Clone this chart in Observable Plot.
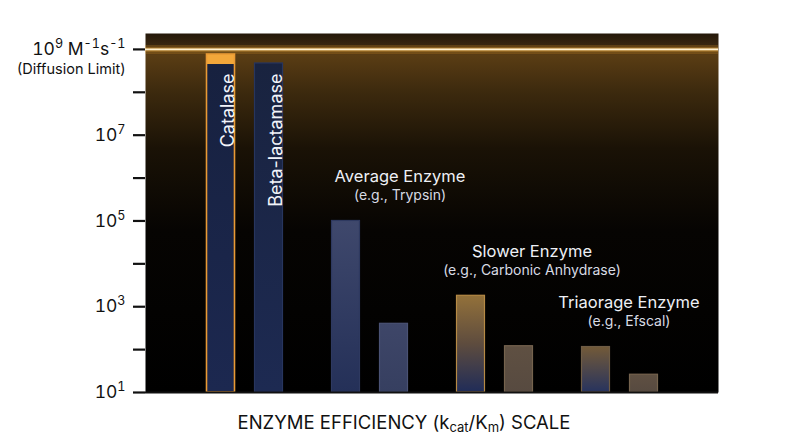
<!DOCTYPE html>
<html>
<head>
<meta charset="utf-8">
<script src="https://cdn.jsdelivr.net/npm/d3@7"></script>
<script src="https://cdn.jsdelivr.net/npm/@observablehq/plot@0.6"></script>
<style>
  html, body { margin: 0; padding: 0; background: #fff; }
  #chart { width: 800px; height: 447px; position: relative; }
</style>
</head>
<body>
<svg width="0" height="0" style="position:absolute">
  <defs>
    <linearGradient id="panelBg" x1="0" y1="0" x2="0" y2="1">
      <stop offset="0" stop-color="#24180a"/>
      <stop offset="0.035" stop-color="#3a2810"/>
      <stop offset="0.06" stop-color="#5a3d14"/>
      <stop offset="0.16" stop-color="#3d2a0e"/>
      <stop offset="0.32" stop-color="#1a1206"/>
      <stop offset="0.55" stop-color="#060402"/>
      <stop offset="1" stop-color="#000000"/>
    </linearGradient>
    <linearGradient id="tone-catalase" x1="0" y1="0" x2="0" y2="1">
      <stop offset="0" stop-color="#f2a73a"/>
      <stop offset="0.03" stop-color="#f2a73a"/>
      <stop offset="0.031" stop-color="#17213f"/>
      <stop offset="1" stop-color="#1c2850"/>
    </linearGradient>
    <linearGradient id="tone-navy" x1="0" y1="0" x2="0" y2="1">
      <stop offset="0" stop-color="#19233f"/>
      <stop offset="1" stop-color="#1d2a52"/>
    </linearGradient>
    <linearGradient id="tone-slate" x1="0" y1="0" x2="0" y2="1">
      <stop offset="0" stop-color="#3f486c"/>
      <stop offset="1" stop-color="#243058"/>
    </linearGradient>
    <linearGradient id="tone-slate2" x1="0" y1="0" x2="0" y2="1">
      <stop offset="0" stop-color="#3e4668"/>
      <stop offset="1" stop-color="#363f60"/>
    </linearGradient>
    <linearGradient id="tone-amber" x1="0" y1="0" x2="0" y2="1">
      <stop offset="0" stop-color="#93713a"/>
      <stop offset="0.5" stop-color="#5e4c3e"/>
      <stop offset="1" stop-color="#202c58"/>
    </linearGradient>
    <linearGradient id="tone-amber2" x1="0" y1="0" x2="0" y2="1">
      <stop offset="0" stop-color="#735a38"/>
      <stop offset="1" stop-color="#27335e"/>
    </linearGradient>
    <linearGradient id="tone-taupe" x1="0" y1="0" x2="0" y2="1">
      <stop offset="0" stop-color="#5f5042"/>
      <stop offset="1" stop-color="#574a40"/>
    </linearGradient>
  </defs>
</svg>
<div id="chart"></div>
<script>
// ---- data ----
const groups = ["Diffusion-limited", "Average", "Slower", "Triaorage"];
const barGroup = ["Diffusion-limited", "Diffusion-limited", "Average", "Average", "Slower", "Slower", "Triaorage", "Triaorage"];
const barRank = ["first", "second", "first", "second", "first", "second", "first", "second"];
const barName = ["Catalase", "Beta-lactamase", "Trypsin", "Average (low)", "Carbonic Anhydrase", "Slower (low)", "Efscal", "Triaorage (low)"];
const barValue = [7.6e8, 4.7e8, 1e5, 400, 1800, 120, 115, 26];
const barTone = ["catalase", "navy", "slate", "slate2", "amber", "taupe", "amber2", "taupe"];
const insideLabels = ["Catalase", "Beta-lactamase"];
const annotGroup = ["Average", "Slower", "Triaorage"];
const annotTitle = ["Average Enzyme", "Slower Enzyme", "Triaorage Enzyme"];
const annotSub = ["(e.g., Trypsin)", "(e.g., Carbonic Anhydrase)", "(e.g., Efscal)"];
const yTicks = [1e1, 1e2, 1e3, 1e4, 1e5, 1e6, 1e7, 1e8, 1e9];
const yTickLabels = ["10^{1}", "", "10^{3}", "", "10^{5}", "", "10^{7}", "", "10^{9} M^{-1}s^{-1}"];
const diffusionLimit = 1e9;
const diffusionNote = "(Diffusion Limit)";

// ---- build table ----
const bars = barValue.map((v, i) => ({
  group: barGroup[i], rank: barRank[i], name: barName[i], value: v, tone: barTone[i],
  label: insideLabels.includes(barName[i]) ? barName[i] : ""
}));
const annots = annotGroup.map((g, i) => ({
  group: g, title: annotTitle[i], sub: annotSub[i],
  value: bars.find(b => b.group === g && b.rank === "first").value
}));

const strokeFor = {catalase: "#e99a35", navy: "#27355e", slate: "#2e3960", slate2: "#4a5274",
  amber: "#b68a45", amber2: "#6e5c45", taupe: "#75634e"};

const W = 800, H = 447;
const FONT = "Inter, 'Noto Sans', sans-serif";

function barMark(rank, dx) {
  const d = bars.filter(b => b.rank === rank);
  return Plot.barY(d, {
    x: "group", y1: () => 10, y2: "value",
    fill: b => `url(#tone-${b.tone})`,
    stroke: b => strokeFor[b.tone],
    strokeWidth: b => b.tone === "catalase" ? 1.6 : 1.2,
    dx, insetLeft: 42.5, insetRight: 42.5
  });
}
function labelMark(rank, dx) {
  const d = bars.filter(b => b.rank === rank && b.label);
  return Plot.text(d, {
    x: "group", text: "label", frameAnchor: "top", dy: 40, dx,
    rotate: -90, textAnchor: "end", fill: "#f2f4fa", fontSize: 18, fontFamily: FONT
  });
}
function annotMarks(g, dx) {
  const d = annots.filter(a => a.group === g);
  return [
    Plot.text(d, {x: "group", y: "value", text: "title", dy: -44, dx, fill: "#eef0f6", fontSize: 16.5, fontFamily: FONT}),
    Plot.text(d, {x: "group", y: "value", text: "sub", dy: -25, dx, fill: "#d8dbe4", fontSize: 14, fontFamily: FONT})
  ];
}

const plot = Plot.plot({
  width: W, height: H,
  marginLeft: 145, marginRight: 82, marginTop: 33, marginBottom: 55,
  style: {background: "transparent", fontFamily: FONT, color: "#111"},
  x: {domain: groups, paddingInner: 0.1, paddingOuter: 0.33, axis: null},
  y: {type: "log", domain: [10, 2.35e9], axis: null},
  color: {type: "identity"},
  marks: [
    Plot.frame({fill: "url(#panelBg)", stroke: null}),
    Plot.ruleY([diffusionLimit], {stroke: "#f5a52a", strokeWidth: 9, strokeOpacity: 0.2}),
    Plot.ruleY([diffusionLimit], {stroke: "#ffb845", strokeWidth: 4, strokeOpacity: 0.45}),
    Plot.ruleY([diffusionLimit], {stroke: "#fff2d2", strokeWidth: 1.8}),
    barMark("first", -24),
    barMark("second", 24),
    labelMark("first", -24),
    labelMark("second", 24),
    ...annotMarks("Average", 30),
    ...annotMarks("Slower", 37),
    ...annotMarks("Triaorage", 9),
    Plot.ruleY([10], {stroke: "#111", strokeWidth: 2}),
    Plot.axisY({
      ticks: yTicks, tickSize: 12, tickPadding: 8, strokeWidth: 2.2, label: null,
      tickFormat: (t, i) => yTickLabels[yTicks.indexOf(t)] ?? "",
      fontSize: 17.5, fontFamily: FONT, fill: "#111", stroke: "#111"
    }),
    Plot.text([diffusionLimit], {y: d => d, text: () => diffusionNote, frameAnchor: "left",
      dx: -20, dy: 20, textAnchor: "end", fontSize: 14.5, fontFamily: FONT, fill: "#111"})
  ]
});
document.getElementById("chart").appendChild(plot);

const svg = d3.select(plot);

// superscript tick labels: parse "^{...}" into raised tspans
svg.selectAll("text").each(function () {
  const el = d3.select(this);
  const s = this.textContent;
  if (!s.includes("^{")) return;
  el.text(null);
  const parts = s.split(/\^\{([^}]*)\}/);
  parts.forEach((p, i) => {
    if (!p) return;
    if (i % 2 === 1) {
      el.append("tspan").text(p).attr("baseline-shift", "super").style("font-size", "72%");
    } else {
      el.append("tspan").text(p);
    }
  });
});

// x axis title with subscripts
const t = svg.append("text")
  .attr("x", W / 2 + 4).attr("y", H - 18)
  .attr("text-anchor", "middle")
  .attr("fill", "#111")
  .style("font-family", FONT).style("font-size", "18.5px");
t.append("tspan").text("ENZYME EFFICIENCY (k");
t.append("tspan").text("cat").attr("baseline-shift", "-25%").style("font-size", "13px");
t.append("tspan").text("/K");
t.append("tspan").text("m").attr("baseline-shift", "-25%").style("font-size", "13px");
t.append("tspan").text(") SCALE");
</script>
</body>
</html>
